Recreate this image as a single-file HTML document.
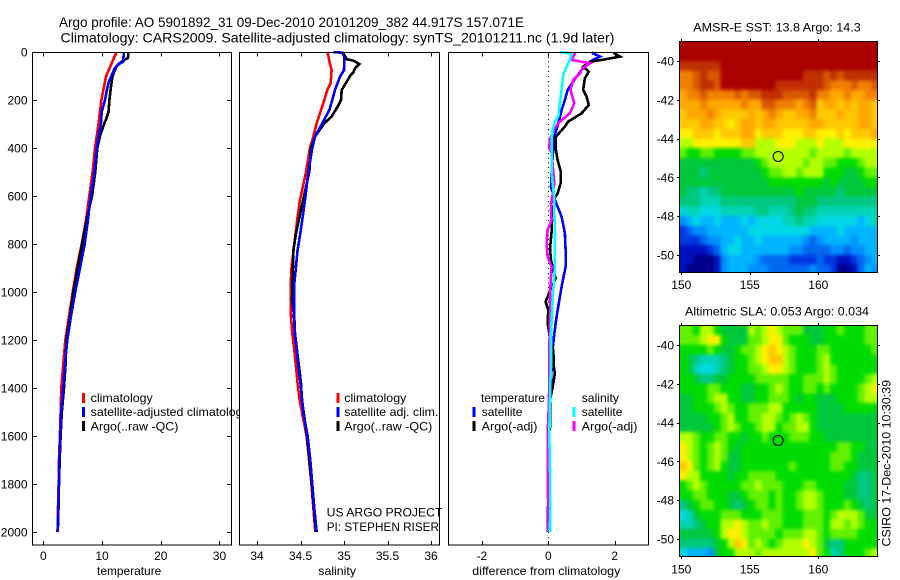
<!DOCTYPE html>
<html>
<head>
<meta charset="utf-8">
<style>
html,body{margin:0;padding:0;background:#fff;}
svg{display:block;font-family:"Liberation Sans",sans-serif;font-size:12px;fill:#000;}
</style>
</head>
<body>
<svg id="chart" width="900" height="580" viewBox="0 0 900 580" xmlns="http://www.w3.org/2000/svg">
<defs>
<filter id="map-smooth" x="-5%" y="-5%" width="110%" height="110%" color-interpolation-filters="sRGB">
<feGaussianBlur stdDeviation="1.8"/>
<feComponentTransfer><feFuncA type="linear" slope="20"/></feComponentTransfer>
</filter>
</defs>
<rect width="900" height="580" fill="#fff"/>
<text x="59" y="27" font-size="14" textLength="465" lengthAdjust="spacingAndGlyphs">Argo profile: AO 5901892_31 09-Dec-2010 20101209_382 44.917S 157.071E</text>
<text x="60.5" y="42.5" font-size="14" textLength="554" lengthAdjust="spacingAndGlyphs">Climatology: CARS2009. Satellite-adjusted climatology: synTS_20101211.nc (1.9d later)</text>
<text transform="translate(890.5,546.5) rotate(-90)" textLength="166.5" lengthAdjust="spacingAndGlyphs">CSIRO 17-Dec-2010 10:30:39</text>
<g id="layer"></g>
</svg>
<script>
// Depth axis ticks
const depthTicks = [0,200,400,600,800,1000,1200,1400,1600,1800,2000];
// Temperature panel
const tempTicks = [0,10,20,30];
const tempClimDepth = [0,25,50,100,200,300,400,500,600,700,800,900,1000,1100,1200,1300,1400,1500,1600,1700,1800,1900,2000];
const tempClim = [12.5,12.0,11.6,10.7,9.9,9.4,8.8,8.4,7.84,7.27,6.53,5.68,5.0,4.38,3.75,3.41,3.07,2.95,2.82,2.68,2.6,2.5,2.42];
const tempSatDepth = [0,40,50,70,100,120,150,200,250,300,350,400,500,600,700,800,900,1000,1100,1200,1300,1400,1500,1600,1700,1800,1900,2000];
const tempSat = [13.7,13.6,12.8,12.1,11.6,11.2,10.9,10.5,9.95,9.8,9.4,9.1,8.7,8.07,7.6,7.05,6.25,5.45,4.72,4.09,3.7,3.41,3.07,2.9,2.73,2.67,2.56,2.45];
const tempArgoDepth = [0,25,40,60,80,100,150,200,250,280,300,350,400,500,600,700,800,900,1000,1100,1200,1300,1400,1500,1600,1700,1800,1900,2000];
const tempArgo = [14.5,14.4,13.35,12.5,12.1,11.8,11.5,11.25,11.1,10.7,10.35,9.65,9.2,8.85,8.3,7.38,6.6,5.85,5.1,4.55,3.92,3.8,3.52,3.15,2.95,2.8,2.68,2.58,2.47];
// Salinity panel
const salTicks = [34,34.5,35,35.5,36];
const salClimDepth = [0,50,75,130,158,200,255,297,353,400,500,617,686,756,825,894,964,1033,1103,1172,1242,1311,1381,1450,1600,1800,2000];
const salClim = [34.81,34.839,34.858,34.847,34.808,34.774,34.724,34.686,34.647,34.609,34.563,34.494,34.467,34.444,34.421,34.398,34.387,34.387,34.391,34.406,34.429,34.448,34.467,34.49,34.57,34.625,34.67];
const salSatDepth = [0,3,20,75,103,158,200,242,297,353,400,500,617,686,756,825,894,964,1033,1103,1172,1242,1311,1400,1505,1600,1700,1800,1900,2000];
const salSat = [34.877,34.981,35.004,35.0,34.954,34.897,34.866,34.831,34.751,34.667,34.636,34.59,34.552,34.525,34.498,34.467,34.448,34.429,34.425,34.425,34.433,34.456,34.475,34.506,34.533,34.582,34.613,34.636,34.659,34.686];
const salArgoDepth = [0,30,36,50,68,85,96,117,158,200,228,269,297,353,400,500,600,658,756,825,894,964,1033,1103,1172,1242,1311,1381,1450,1600,1800,2000];
const salArgo = [34.985,35.03,35.107,35.176,35.126,35.107,35.077,35.042,34.973,34.966,34.927,34.858,34.774,34.667,34.621,34.601,34.54,34.506,34.448,34.418,34.414,34.406,34.402,34.429,34.437,34.46,34.483,34.506,34.517,34.575,34.63,34.678];
// Difference panel
const diffTicks = [-2,0,2];
const diffTempSatDepth = [3,19,36,75,103,158,200,242,297,353,400,500,561,617,686,756,825,895,964,1034,1103,1173,1242,1312,1381,1450,1600,2000];
const diffTempSat = [1.31,1.56,1.31,1.0,0.85,0.58,0.5,0.4,0.3,0.18,0.15,0.1,0.08,0.2,0.4,0.5,0.52,0.52,0.42,0.33,0.25,0.18,0.13,0.1,0.08,0.05,0.03,-0.02];
const diffTempArgoDepth = [3,19,33,40,61,82,110,158,186,221,256,290,311,353,400,450,500,547,589,631,658,750,820,867,909,943,978,1020,1041,1075,1131,1173,1242,1312,1339,1381,1450,1500,1560,1600,2000];
const diffTempArgo = [1.96,2.16,1.61,1.26,1.05,1.22,1.1,1.05,1.15,1.22,1.0,0.6,0.5,0.23,0.22,0.28,0.38,0.37,0.28,0.08,0.12,0.1,0.05,0.08,0.15,0.22,0.1,-0.02,-0.08,0,-0.02,0.03,0.15,0.17,0.2,0.15,0.05,0.06,0.06,0.0,0.0];
const diffSalArgoDepth = [3,33,47,68,89,117,158,214,256,290,325,367,394,422,500,547,603,617,659,700,742,798,853,895,964,1034,1075,1173,1312,1450,1600,2000];
const diffSalArgo = [0.82,0.7,1.26,1.02,0.95,0.75,0.67,0.78,0.65,0.35,0.15,0.05,0.02,0.1,0.15,0.18,0.12,0.1,0.08,0.1,-0.02,-0.05,-0.02,0.1,0.07,0.05,0.06,0.04,0.03,0.02,-0.02,0.0];
const diffSalSatDepth = [0,6,33,61,96,158,214,269,290,325,353,500,547,603,658,756,895,1034,1173,1312,1381,1450,1600,1800,2000];
const diffSalSat = [0.35,0.7,0.65,0.55,0.45,0.4,0.35,0.3,0.2,0.13,0.1,0.1,0.13,0.18,0.18,0.2,0.2,0.13,0.08,0.08,0.06,0.05,0.03,0.06,0.05];
// Map axes
const lonTicks = [150,155,160];
const latTicks = [-40,-42,-44,-46,-48,-50];
const argoLon = [157.07];
const argoLat = [-44.92];
const sstArgoLevel = [12];
const slaArgoLevel = [10];
// Map colour levels (0 = deep blue ... 19 = dark red), rows north to south
const sstGrid = [
[19,19,19,19,19,19,19,19,19,19,19,19,19,19,19,19,19,19,19,19,19,19,19,19,19,19,19,19,19],
[19,19,19,19,19,19,19,19,19,19,19,19,19,19,19,19,19,19,19,19,19,19,19,19,19,19,19,19,19],
[18,18,18,18,18,18,19,19,19,19,19,19,19,19,19,19,19,19,19,19,19,19,19,19,19,19,19,19,19],
[16,16,17,18,17,17,19,19,19,19,19,19,19,19,19,19,19,19,18,18,18,17,18,17,18,18,18,18,18],
[16,16,17,18,18,17,19,19,19,19,19,19,19,19,18,18,18,18,18,18,18,17,16,16,16,17,16,16,17],
[15,16,16,17,16,16,16,16,17,16,17,17,18,18,18,17,17,17,17,18,16,16,15,15,16,15,15,16,16],
[15,15,15,16,15,15,15,15,15,16,15,15,17,17,16,16,16,15,16,17,14,15,15,14,15,14,15,15,14],
[14,15,15,15,16,15,14,14,14,14,15,14,15,16,15,14,14,15,15,16,14,14,14,15,14,14,15,15,14],
[14,14,14,15,15,14,14,13,14,15,15,14,15,15,14,14,14,14,14,15,15,14,14,14,14,14,15,15,14],
[13,13,14,14,14,13,14,14,14,15,15,13,14,14,14,13,13,13,14,14,13,13,13,14,13,14,14,14,15],
[12,12,13,13,13,13,13,13,13,14,14,12,12,12,13,13,13,12,12,12,13,12,12,12,13,13,13,13,13],
[11,10,10,11,11,10,10,10,10,11,11,12,12,12,12,12,12,12,12,11,12,12,12,12,11,12,12,12,12],
[9,9,9,9,9,9,9,9,9,9,9,10,11,12,12,12,12,12,11,12,12,11,11,10,10,10,11,12,12],
[9,9,9,8,9,9,9,9,9,9,9,9,10,11,11,12,12,11,12,12,12,10,10,10,9,9,10,11,11],
[9,9,9,9,9,9,9,9,9,9,9,9,9,10,10,10,10,10,10,10,10,9,10,9,9,9,9,10,10],
[9,8,8,7,8,8,9,9,9,9,9,9,9,9,9,9,9,10,9,9,9,9,9,8,9,9,9,9,9],
[8,8,8,7,7,7,8,8,8,8,8,8,8,8,8,8,8,9,9,9,8,8,8,8,8,8,8,8,8],
[6,7,7,6,6,6,7,7,7,7,7,8,8,7,7,7,8,9,8,8,7,7,7,7,7,7,7,7,7],
[4,5,6,5,5,6,5,5,5,6,5,6,6,6,6,7,7,8,7,7,6,6,6,6,6,6,5,6,7],
[2,3,4,4,5,5,5,5,5,5,6,6,6,6,6,6,6,6,6,5,5,5,5,6,5,5,5,5,5],
[2,2,2,3,4,4,5,5,6,5,5,6,5,5,5,5,5,5,4,3,4,5,5,5,5,4,5,5,5],
[1,1,1,1,2,3,5,6,6,5,5,5,5,5,5,5,4,4,3,3,3,3,4,4,3,4,4,5,5],
[1,1,0,0,0,1,4,5,5,5,5,4,3,3,3,3,2,2,2,2,3,2,2,1,1,2,3,4,5],
[1,0,0,0,0,1,4,5,5,5,4,4,4,3,3,3,3,3,3,4,3,3,2,0,0,1,3,5,4]
];
const slaGrid = [
[11,11,10,12,12,10,9,9,9,9,12,11,12,13,12,11,11,11,9,9,9,10,10,11,10,10,10,11,11],
[11,11,11,12,13,13,10,9,9,9,11,11,12,13,13,11,10,10,10,9,9,10,10,10,10,10,10,11,11],
[10,10,10,10,11,10,9,9,10,11,11,12,13,14,13,12,11,10,10,10,11,11,10,10,10,10,10,10,11],
[10,9,8,7,7,7,8,9,10,10,11,12,13,14,14,12,11,10,10,10,11,12,10,10,10,10,10,10,10],
[10,9,7,6,6,7,8,9,10,10,11,11,12,13,13,12,11,10,10,10,11,12,11,10,10,10,10,10,10],
[10,10,9,8,8,9,9,10,10,10,10,11,11,11,11,11,10,10,11,11,11,12,11,10,10,10,10,11,12],
[10,10,10,10,11,11,10,10,10,9,9,10,10,11,12,11,10,10,11,11,10,11,10,10,10,10,11,12,13],
[9,9,10,10,11,12,12,10,10,9,9,10,10,11,11,11,10,9,10,10,9,9,9,10,10,10,11,12,12],
[9,9,10,10,10,11,12,11,10,10,11,11,11,12,12,10,10,10,10,10,9,9,9,9,10,10,10,10,10],
[9,9,9,9,10,10,11,12,10,10,11,11,12,12,11,10,11,12,11,10,9,9,9,9,9,9,9,9,9],
[9,9,9,9,9,10,11,12,11,10,10,11,12,12,10,11,11,12,12,10,9,9,9,9,9,9,9,9,9],
[12,12,11,10,10,11,11,10,10,9,10,10,11,10,10,10,11,11,11,10,10,9,9,9,9,9,9,9,9],
[13,12,11,10,11,12,11,10,9,10,10,10,10,10,10,10,10,10,10,10,10,10,10,11,11,10,10,9,9],
[13,12,11,10,11,12,11,9,9,10,10,10,10,10,10,10,10,10,10,10,10,10,11,11,11,10,9,9,9],
[14,13,11,10,11,12,10,9,9,10,10,10,10,10,10,10,11,10,10,10,10,10,11,11,10,10,9,9,9],
[13,12,12,10,10,10,10,9,10,10,11,11,11,11,10,10,10,10,10,10,10,10,10,10,10,9,8,8,9],
[10,11,12,11,10,10,10,10,10,11,11,12,11,11,11,10,10,10,11,11,10,10,10,10,9,9,8,8,9],
[10,10,11,11,10,10,10,9,9,10,11,11,11,10,11,10,10,11,12,12,11,10,10,10,9,9,8,8,9],
[8,9,10,11,11,10,10,9,8,9,10,11,11,10,11,10,10,11,12,12,11,10,10,10,11,10,9,8,9],
[6,7,9,10,10,10,11,11,11,10,10,10,11,11,11,10,10,10,11,11,11,10,11,12,12,12,11,9,9],
[7,7,8,9,10,10,12,12,13,12,11,11,12,11,11,10,10,10,11,11,11,10,12,12,11,12,11,10,10],
[9,9,9,9,9,10,12,13,13,12,11,11,11,11,10,11,11,11,12,12,11,10,11,11,11,11,10,10,10],
[8,8,8,8,8,9,10,12,14,13,11,12,11,10,11,12,12,12,13,12,11,9,8,8,10,10,10,10,10],
[6,5,5,5,4,9,10,10,12,12,12,11,12,12,12,12,12,12,12,13,11,10,7,8,10,10,10,11,12]
];
const levelColours = ['#00008c','#0010c0','#0038e0','#0068f0','#0090ff','#00b4ff','#00d8e6','#00d4b4','#00c880','#00c83c','#00dc00','#60f000','#b4ff00','#fff000','#ffc800','#ffa800','#f08000','#d85800','#c03000','#aa0000'];

const NS = 'http://www.w3.org/2000/svg';
const layer = document.getElementById('layer');
function mk(tag, attrs, parent){
  const e = document.createElementNS(NS, tag);
  for (const k in attrs) e.setAttribute(k, attrs[k]);
  (parent || layer).appendChild(e);
  return e;
}
const yDepth = d => 52 + d * 0.24;
const xTemp = v => 43.3 + v * 5.873;
const xSal = v => 257 + (v - 34) * 87;
const xDiff = v => 548.3 + v * 33.2;

function label(name, txt, x, y, anchor, len){
  const attrs = {x:x, y:y, 'text-anchor':anchor || 'start'};
  if (len) { attrs.textLength = len; attrs.lengthAdjust = 'spacingAndGlyphs'; }
  const t = mk('text', attrs);
  
  
  t.textContent = txt;
  return t;
}
function series(name, depths, vals, xf, colour){
  const pts = vals.map((v,i) => xf(v).toFixed(1) + ',' + yDepth(depths[i]).toFixed(1)).join(' ');
  const p = mk('polyline', {points:pts, fill:'none', stroke:colour, 'stroke-width':2.6, 'shape-rendering':'crispEdges'});
  
  
}
function panelBox(name, l, r){
  const b = mk('rect', {x:l, y:52.5, width:r-l, height:492.5, fill:'#fff', stroke:'none'});
  
  
}
function panelFrame(name, l, r){
  const b = mk('rect', {x:l, y:52.5, width:r-l, height:492.5, fill:'none', stroke:'#000', 'stroke-width':1, 'shape-rendering':'crispEdges'});
  
  
}
function tick(name, x1, y1, x2, y2){
  const t = mk('line', {x1:x1, y1:y1, x2:x2, y2:y2, stroke:'#000', 'stroke-width':1, 'shape-rendering':'crispEdges'});
  
  
}
function xTicks(panel, vals, xf){
  vals.forEach(v => {
    const x = Math.round(xf(v)) + 0.5;
    tick(panel + '-x-tick', x, 52.5, x, 56.5);
    tick(panel + '-x-tick', x, 545, x, 541);
    label(panel + '-x-tick-label', String(v), xf(v), 560, 'middle');
  });
}
function swatch(name, x, cy, colour){
  const s = mk('rect', {x:x-1.5, y:cy-5, width:3, height:10, fill:colour, 'shape-rendering':'crispEdges'});
  
  
}

// Panel 1: temperature
panelBox('temperature-panel', 32.5, 231.5);
depthTicks.forEach(d => {
  const y = Math.round(yDepth(d)) + 0.5;
  tick('depth-tick-left', 32.5, y, 37, y);
  tick('depth-tick-right', 231.5, y, 227, y);
  label('depth-tick-label', String(d), 27.5, yDepth(d) + 4.5, 'end');
});
series('temperature-climatology-line', tempClimDepth, tempClim, xTemp, '#ff0000');
series('temperature-argo-line', tempArgoDepth, tempArgo, xTemp, '#000000');
series('temperature-satellite-line', tempSatDepth, tempSat, xTemp, '#0000ff');
panelFrame('temperature-panel-frame', 32.5, 231.5);
xTicks('temperature', tempTicks, xTemp);
label('temperature-axis-title', 'temperature', 97, 575, 'start', 64.3);
swatch('legend-swatch-climatology', 83.5, 398, '#ff0000');
swatch('legend-swatch-satellite', 83.5, 412, '#0000ff');
swatch('legend-swatch-argo', 83.5, 426, '#000000');
label('legend-label-climatology', 'climatology', 90.7, 402, 'start', 62);
label('legend-label-satellite', 'satellite-adjusted climatology', 90.7, 416, 'start', 158);
label('legend-label-argo', 'Argo(..raw -QC)', 90.7, 430.5, 'start', 87.7);

// Panel 2: salinity
panelBox('salinity-panel', 239.5, 439.5);
series('salinity-climatology-line', salClimDepth, salClim, xSal, '#ff0000');
series('salinity-argo-line', salArgoDepth, salArgo, xSal, '#000000');
series('salinity-satellite-line', salSatDepth, salSat, xSal, '#0000ff');
panelFrame('salinity-panel-frame', 239.5, 439.5);
xTicks('salinity', salTicks, xSal);
label('salinity-axis-title', 'salinity', 318.3, 575, 'start', 37.7);
swatch('legend-swatch-climatology', 338, 398, '#ff0000');
swatch('legend-swatch-satellite', 338, 412, '#0000ff');
swatch('legend-swatch-argo', 338, 426, '#000000');
label('legend-label-climatology', 'climatology', 344.3, 402, 'start', 62);
label('legend-label-satellite', 'satellite adj. clim.', 344.3, 416, 'start', 94);
label('legend-label-argo', 'Argo(..raw -QC)', 344.3, 430.5, 'start', 88);
label('project-label', 'US ARGO PROJECT', 326.7, 516.5, 'start', 115.7);
label('pi-label', 'PI: STEPHEN RISER', 326.7, 531, 'start', 112.3);

// Panel 3: differences
panelBox('difference-panel', 448.5, 648.5);
const zero = mk('line', {x1:548.5, y1:52, x2:548.5, y2:545, stroke:'#000', 'stroke-width':1, 'stroke-dasharray':'1 3.8', 'shape-rendering':'crispEdges'});


series('difference-temperature-satellite-line', diffTempSatDepth, diffTempSat, xDiff, '#0000ff');
series('difference-temperature-argo-line', diffTempArgoDepth, diffTempArgo, xDiff, '#000000');
series('difference-salinity-argo-line', diffSalArgoDepth, diffSalArgo, xDiff, '#ff00ff');
series('difference-salinity-satellite-line', diffSalSatDepth, diffSalSat, xDiff, '#00ffff');
panelFrame('difference-panel-frame', 448.5, 648.5);
xTicks('difference', diffTicks, xDiff);
label('difference-axis-title', 'difference from climatology', 472.3, 575, 'start', 148);
label('legend-heading-temperature', 'temperature', 481, 402, 'start', 64);
label('legend-heading-salinity', 'salinity', 581.7, 402, 'start', 37.3);
swatch('legend-swatch-temperature-satellite', 474, 412, '#0000ff');
swatch('legend-swatch-temperature-argo', 474, 426, '#000000');
swatch('legend-swatch-salinity-satellite', 574, 412, '#00ffff');
swatch('legend-swatch-salinity-argo', 574, 426, '#ff00ff');
label('legend-label-temperature-satellite', 'satellite', 481.7, 416, 'start', 40.7);
label('legend-label-temperature-argo', 'Argo(-adj)', 481.7, 430.5, 'start', 55.7);
label('legend-label-salinity-satellite', 'satellite', 581.7, 416, 'start', 40.7);
label('legend-label-salinity-argo', 'Argo(-adj)', 581.7, 430.5, 'start', 55.7);

// Maps
function drawMap(prefix, grid, top, bottom, lat40Y, titleTxt, titleX, titleY, titleLen, labelY, argoLevel){
  const L = 679.5, R = 877.5;
  const xLon = lon => 681.3 + (lon - 150) * 13.7;
  const yLat = lat => lat40Y + (-40 - lat) * 19.4;
  const clipId = prefix + '-clip';
  const defs = mk('defs', {});
  const cp = mk('clipPath', {id:clipId}, defs);
  mk('rect', {x:L, y:top, width:R-L, height:bottom-top}, cp);
  const outer = mk('g', {'clip-path':'url(#' + clipId + ')'});
  
  
  const g = mk('g', {filter:'url(#map-smooth)'}, outer);
  
  
  const lon0 = 150 + (L - 681.3) / 13.7;
  const lat0 = -40 - (top - lat40Y) / 19.4;
  grid.forEach((row, r) => {
    row.forEach((v, c) => {
      const x0 = xLon(lon0 + c * 0.5), x1 = xLon(lon0 + (c + 1) * 0.5);
      const y0 = yLat(lat0 - r * 0.5), y1 = yLat(lat0 - (r + 1) * 0.5);
      const cell = mk('rect', {x:x0.toFixed(2), y:y0.toFixed(2), width:(x1-x0+0.5).toFixed(2), height:(y1-y0+0.5).toFixed(2), fill:levelColours[v], 'shape-rendering':'crispEdges'}, g);
      
      
    });
  });
  const frame = mk('rect', {x:L, y:top, width:R-L, height:bottom-top, fill:'none', stroke:'#000', 'stroke-width':1, 'shape-rendering':'crispEdges'});
  
  
  lonTicks.forEach(v => {
    const x = Math.round(xLon(v)) + 0.5;
    tick(prefix + '-lon-tick', x, top, x, top - 2.5);
    tick(prefix + '-lon-tick', x, bottom, x, bottom + 2.5);
    label(prefix + '-lon-tick-label', String(v), xLon(v), labelY, 'middle');
  });
  latTicks.forEach(v => {
    const y = Math.round(yLat(v)) + 0.5;
    tick(prefix + '-lat-tick', L, y, L - 2.5, y);
    tick(prefix + '-lat-tick', R, y, R + 2.5, y);
    label(prefix + '-lat-tick-label', String(v), 674, yLat(v) + 4.5, 'end');
  });
  label(prefix + '-title', titleTxt, titleX, titleY, 'start', titleLen);
  const m = mk('circle', {cx:xLon(argoLon[0]), cy:yLat(argoLat[0]), r:5, fill:levelColours[argoLevel], stroke:'#000', 'stroke-width':1});
  
  
}
drawMap('sst-map', sstGrid, 41.5, 272.5, 61, 'AMSR-E SST: 13.8 Argo: 14.3', 693.3, 31.5, 167.4, 289, sstArgoLevel[0]);
drawMap('sla-map', slaGrid, 325.5, 556.5, 345, 'Altimetric SLA: 0.053 Argo: 0.034', 685, 315.5, 184, 573.5, slaArgoLevel[0]);
</script>
</body>
</html>
